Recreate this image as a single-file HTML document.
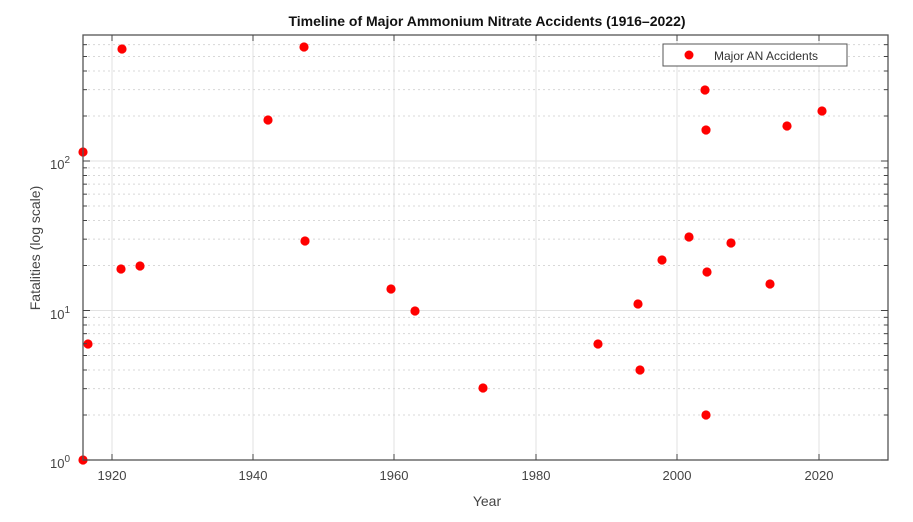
<!DOCTYPE html>
<html><head><meta charset="utf-8"><style>
body{margin:0;background:#fff;}
svg{display:block;font-family:"Liberation Sans",sans-serif;}
</style></head><body>
<svg width="913" height="522" viewBox="0 0 913 522">
<rect width="913" height="522" fill="#fff"/>
<g id="grid"></g>
<g id="pts"></g>
<rect x="83" y="35" width="805" height="425" fill="none" stroke="#555" stroke-width="1.3"/>
<g id="ticks" stroke="#444" stroke-width="1"></g>
<text x="487" y="26" text-anchor="middle" font-size="14" font-weight="bold" fill="#111">Timeline of Major Ammonium Nitrate Accidents (1916–2022)</text>
<g font-size="13" fill="#444" text-anchor="middle">
<text x="112" y="480">1920</text><text x="253" y="480">1940</text><text x="394" y="480">1960</text><text x="536" y="480">1980</text><text x="677" y="480">2000</text><text x="819" y="480">2020</text>
</g>
<g font-size="13" fill="#444" text-anchor="end">
<text x="70" y="468">10<tspan dy="-6" font-size="10">0</tspan></text>
<text x="70" y="319">10<tspan dy="-6" font-size="10">1</tspan></text>
<text x="70" y="169">10<tspan dy="-6" font-size="10">2</tspan></text>
</g>
<text x="487" y="506" text-anchor="middle" font-size="14" fill="#444">Year</text>
<text transform="translate(40,248) rotate(-90)" text-anchor="middle" font-size="14" fill="#444">Fatalities (log scale)</text>
<rect x="663" y="44" width="184" height="22" fill="#fff" stroke="#555" stroke-width="1"/>
<circle cx="689" cy="55" r="4.5" fill="#f00"/>
<text x="714" y="60" font-size="12" fill="#333">Major AN Accidents</text>
<script>
(function(){
var ns="http://www.w3.org/2000/svg";
function el(p,t,a){var e=document.createElementNS(ns,t);for(var k in a)e.setAttribute(k,a[k]);p.appendChild(e);return e;}
var g=document.getElementById('grid'),tk=document.getElementById('ticks'),pt=document.getElementById('pts');
function Y(v){return 460-Math.log10(v)*149.5;}
[112,253,394,536,677,819].forEach(function(x){
 el(g,'line',{x1:x,y1:35,x2:x,y2:460,stroke:'#e2e2e2','stroke-width':1});
 el(tk,'line',{x1:x,y1:460,x2:x,y2:454});el(tk,'line',{x1:x,y1:35,x2:x,y2:41});
});
for(var d=0;d<3;d++){for(var m=1;m<10;m++){var v=m*Math.pow(10,d);var y=Y(v);if(y<36)continue;
 if(m==1){el(g,'line',{x1:83,y1:y,x2:888,y2:y,stroke:'#e2e2e2','stroke-width':1});
  el(tk,'line',{x1:83,y1:y,x2:90,y2:y});el(tk,'line',{x1:888,y1:y,x2:881,y2:y});}
 else{el(g,'line',{x1:83,y1:y,x2:888,y2:y,stroke:'#d8d8d8','stroke-width':1,'stroke-dasharray':'2,3'});
  el(tk,'line',{x1:83,y1:y,x2:87,y2:y});el(tk,'line',{x1:888,y1:y,x2:884,y2:y});}
}}
var P=[[83,152],[88,344],[83,460],[122,49],[121,269],[140,266],[268,120],[304,47],[305,241],[391,289],[415,311],[483,388],[598,344],[638,304],[640,370],[662,260],[689,237],[705,90],[706,130],[707,272],[706,415],[731,243],[770,284],[787,126],[822,111]];
P.forEach(function(p){el(pt,'circle',{cx:p[0],cy:p[1],r:4.6,fill:'#f00'});});
})();
</script>
</svg>
</body></html>
